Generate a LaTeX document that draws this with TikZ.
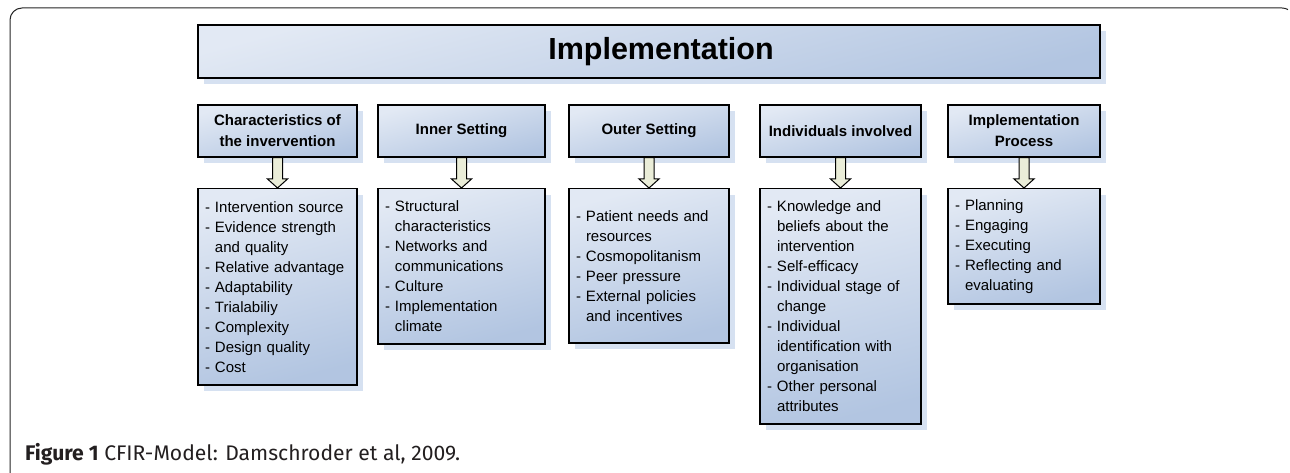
\documentclass[tikz,border=0pt]{standalone}
\usepackage{fontspec}
\usepackage{graphicx}
\setmainfont{Liberation Sans}
\newfontfamily\capfont{Fira Sans}
\usetikzlibrary{shadows,calc}
\definecolor{bxlight}{RGB}{226,233,244}
\definecolor{bxdark}{RGB}{178,197,225}
\definecolor{shadowc}{RGB}{214,225,241}
\definecolor{arrowc}{RGB}{234,237,216}
\definecolor{capc}{RGB}{35,31,32}
\tikzset{
  boxbase/.style={draw=black, line width=1.5pt, rectangle, inner sep=0pt,
    top color=bxlight, bottom color=bxdark, shading angle=15,
    drop shadow={shadow xshift=6pt, shadow yshift=-6pt, fill=shadowc, opacity=1}},
  titlebox/.style={boxbase, minimum width=902pt, minimum height=53pt,
    font=\bfseries\fontsize{30.5}{34}\selectfont},
  headbox/.style={boxbase, minimum height=52pt, align=center,
    font=\bfseries\fontsize{15}{21}\selectfont},
  listbox/.style={boxbase, anchor=north, align=left, inner xsep=7pt,
    font=\fontsize{15}{20}\selectfont},
  blockarrow/.style={draw=black, line width=1pt, fill=arrowc, line join=miter},
  frameline/.style={draw=black!85, line width=1pt},
}
\newcommand{\ind}{\hphantom{- }}
\newcommand{\blockarr}[2]{%
  \draw[blockarrow] ($(#1.south)+(-5,0)$) -- ($(#2.north)+(-5,-9)$) -- ($(#2.north)+(-10,-9)$)
    -- (#2.north) -- ($(#2.north)+(10,-9)$) -- ($(#2.north)+(5,-9)$) -- ($(#1.south)+(5,0)$) -- cycle;}
\begin{document}
\begin{tikzpicture}[x=1pt,y=-1pt]
\useasboundingbox (0,0) rectangle (1290,473);
\fill[white] (0,0) rectangle (1290,473);
% frame
\draw[frameline] (10,475) -- (10,20) arc[start angle=180, end angle=270, radius=12] -- (1282,8)
  arc[start angle=-90, end angle=-60, radius=12];
% title
\node[titlebox] (title) at (649,51.5) {\hspace*{24pt}Implementation};
% headers
\node[headbox, minimum width=159pt] (h1) at (277.5,131) {Characteristics of\\the invervention};
\node[headbox, minimum width=167pt] (h2) at (461.5,131) {Inner Setting};
\node[headbox, minimum width=160pt] (h3) at (649,131) {Outer Setting};
\node[headbox, minimum width=161pt] (h4) at (840.5,131) {Individuals involved};
\node[headbox, minimum width=152pt] (h5) at (1024,131) {Implementation\\Process};
% lists
\node[listbox, text width=145pt, minimum height=196pt] (l1) at (277.5,188)
 {- Intervention source\\- Evidence strength\\\ind and quality\\- Relative advantage\\- Adaptability\\- Trialabiliy\\- Complexity\\- Design quality\\- Cost};
\node[listbox, text width=153pt, minimum height=155pt] (l2) at (461.5,188)
 {- Structural\\\ind characteristics\\- Networks and\\\ind communications\\- Culture\\- Implementation\\\ind climate};
\node[listbox, text width=146pt, minimum height=154pt] (l3) at (649,188)
 {- Patient needs and\\\ind resources\\- Cosmopolitanism\\- Peer pressure\\- External policies\\\ind and incentives};
\node[listbox, text width=147pt, minimum height=235pt] (l4) at (840.5,188)
 {- Knowledge and\\\ind beliefs about the\\\ind intervention\\- Self-efficacy\\- Individual stage of\\\ind change\\- Individual\\\ind identification with\\\ind organisation\\- Other personal\\\ind attributes};
\node[listbox, text width=138pt, minimum height=115pt] (l5) at (1024,188)
 {- Planning\\- Engaging\\- Executing\\- Reflecting and\\\ind evaluating};
% arrows
\blockarr{h1}{l1}
\blockarr{h2}{l2}
\blockarr{h3}{l3}
\blockarr{h4}{l4}
\blockarr{h5}{l5}
% caption
\node[anchor=base west, inner sep=0pt, text=capc, font=\capfont\fontsize{19}{22}\selectfont] (cap) at (25,460)
 {\resizebox{435pt}{!}{\textbf{Figure 1} CFIR-Model: Damschroder et al, 2009.}};
\end{tikzpicture}
\end{document}
